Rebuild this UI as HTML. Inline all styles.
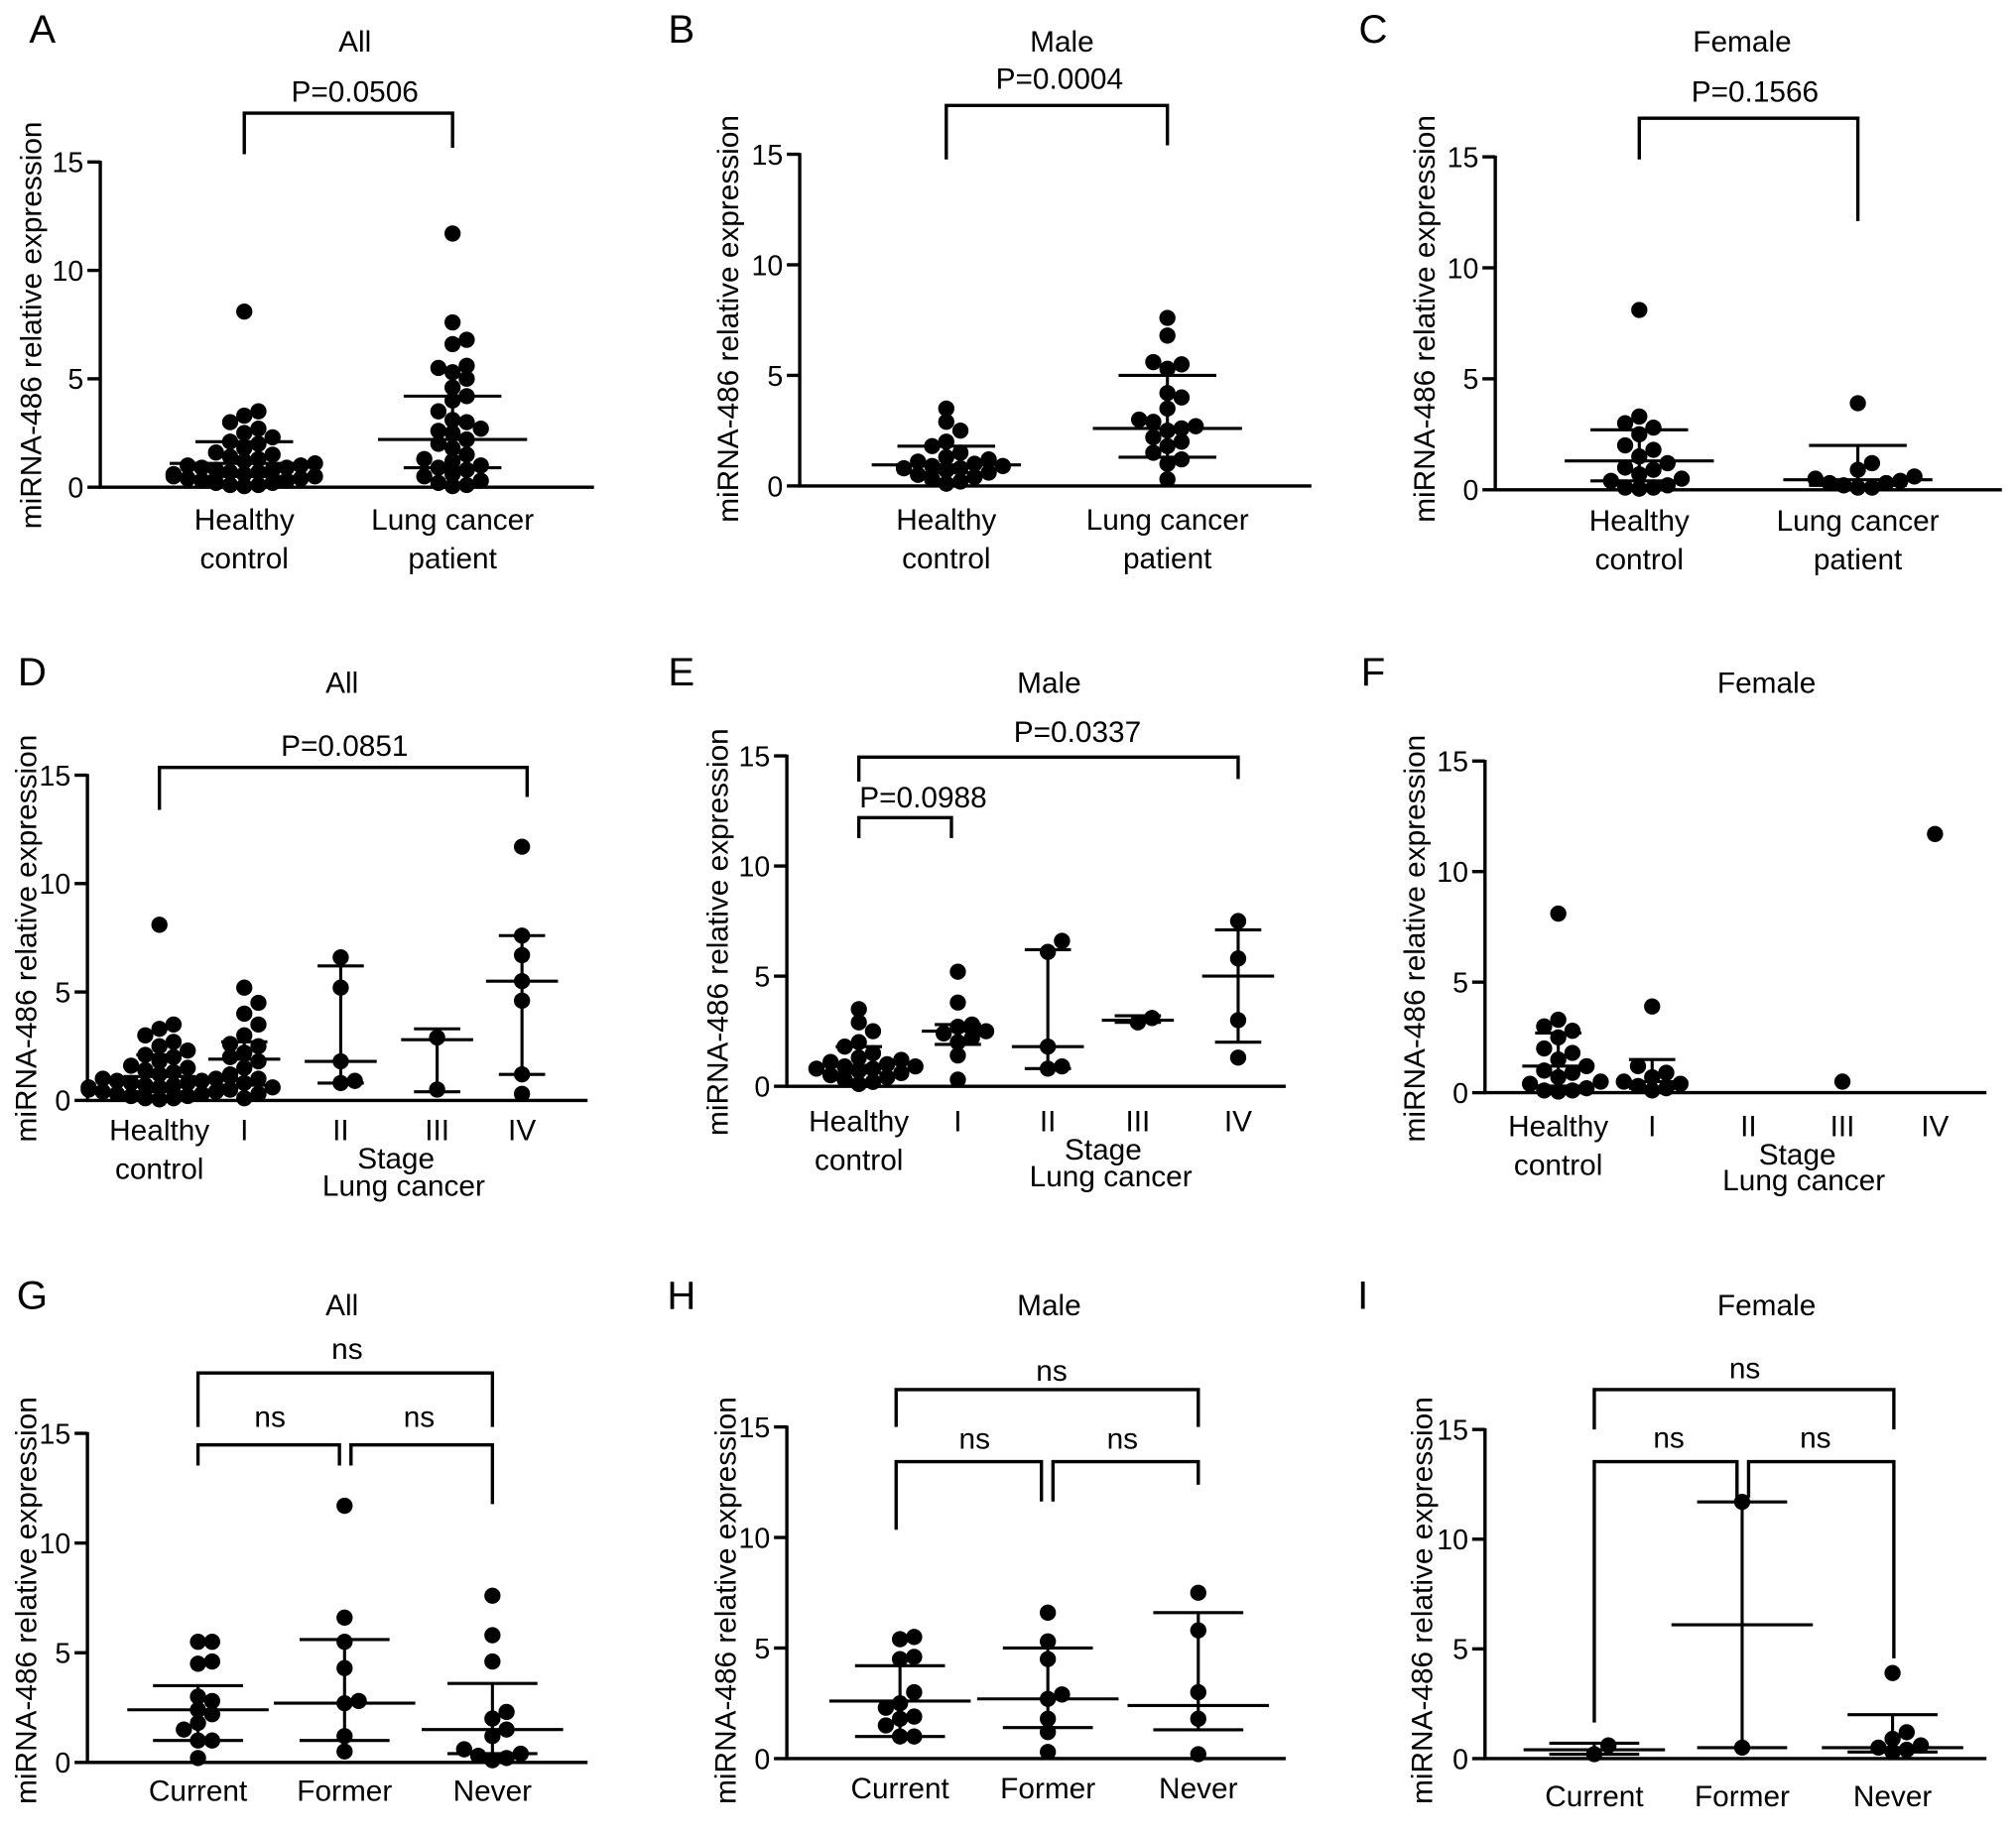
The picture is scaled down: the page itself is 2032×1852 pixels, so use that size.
<!DOCTYPE html>
<html><head><meta charset="utf-8"><style>
html,body{margin:0;padding:0;background:#fff}
svg{display:block}
text{font-family:"Liberation Sans",Arial,sans-serif;fill:#000}
</style></head><body>
<svg id="fig" xmlns="http://www.w3.org/2000/svg" width="2032" height="1852" viewBox="0 0 1568 1429" preserveAspectRatio="none"></svg>
<script>
// ---- data ----
const aCats=["Healthy|control","Lung cancer|patient"];
const aHealthy=[8.1,3.5,3.3,3.0,2.7,2.5,2.3,2.1,2.0,1.8,1.6,1.5,1.4,1.3,1.2,1.1,1.0,1.0,0.9,0.9,0.8,0.8,0.7,0.7,0.6,0.6,0.5,0.5,0.4,0.4,0.3,0.3,0.2,0.2,0.1,0.1,0.05];
const aCancer=[11.7,7.6,6.8,6.6,5.6,5.5,5.3,5.0,4.6,4.2,4.0,3.5,3.1,3.0,2.7,2.6,2.5,2.2,2.0,1.8,1.5,1.3,1.2,1.0,0.9,0.8,0.6,0.5,0.3,0.2,0.1,0.05];
const aMedian=[1.1,2.2], aQ1=[0.5,0.9], aQ3=[2.1,4.2];

const bHealthy=[3.5,2.9,2.5,2.0,1.8,1.5,1.3,1.2,1.1,1.0,0.9,0.9,0.8,0.8,0.7,0.6,0.5,0.4,0.3,0.2,0.1];
const bCancer=[7.6,6.8,5.6,5.5,5.3,4.2,4.0,3.5,3.0,2.9,2.7,2.6,2.5,2.2,2.0,1.8,1.5,1.2,1.0,0.3];
const bMedian=[0.95,2.6], bQ1=[0.6,1.3], bQ3=[1.8,5.0];

const cHealthy=[8.1,3.3,3.0,2.8,2.5,2.0,1.8,1.5,1.2,1.0,0.9,0.7,0.5,0.4,0.2,0.1,0.1,0.05];
const cCancer=[3.9,1.2,0.9,0.6,0.5,0.4,0.3,0.3,0.2,0.1,0.1];
const cMedian=[1.3,0.45], cQ1=[0.4,0.2], cQ3=[2.7,2.0];

const stageCats=["Healthy|control","I","II","III","IV"];
const dI=[5.2,4.5,4.0,3.5,3.0,2.6,2.5,2.2,2.0,1.8,1.5,1.2,1.0,0.8,0.6,0.5,0.3,0.1];
const dII=[6.6,5.2,1.8,0.9,0.8], dIII=[2.9,0.5], dIV=[11.7,7.6,6.7,5.5,4.6,1.2,0.3];
const dMedian=[1.1,1.9,1.8,2.8,5.5], dQ1=[0.4,0.7,0.8,0.4,1.2], dQ3=[2.1,2.7,6.2,3.3,7.6];

const eI=[5.2,3.8,2.8,2.7,2.5,2.4,2.2,2.0,1.4,0.3];
const eII=[6.6,6.1,1.8,0.9,0.8], eIII=[3.1,2.9], eIV=[7.5,5.8,3.0,1.3];
const eMedian=[0.95,2.5,1.8,3.0,5.0], eQ1=[0.6,1.9,0.8,2.9,2.0], eQ3=[1.8,2.8,6.2,3.2,7.1];

const fI=[3.9,1.2,0.9,0.7,0.5,0.4,0.3,0.2,0.1], fII=[], fIII=[0.5], fIV=[11.7];
const fMedian=[1.2,0.5,null,null,null], fQ1=[0.3,0.2,null,null,null], fQ3=[2.7,1.5,null,null,null];

const smokeCats=["Current","Former","Never"];
const gCurrent=[5.5,5.5,4.6,4.5,3.0,2.8,2.4,2.2,1.8,1.5,1.0,1.0,0.2];
const gFormer=[11.7,6.6,5.5,4.3,2.8,2.7,1.2,0.5];
const gNever=[7.6,5.8,4.6,2.3,2.0,1.5,1.2,0.6,0.4,0.3,0.2,0.1];
const gMedian=[2.4,2.7,1.5], gQ1=[1.0,1.0,0.4], gQ3=[3.5,5.6,3.6];

const hCurrent=[5.5,5.4,4.6,4.5,3.0,2.5,2.3,1.9,1.8,1.5,1.0,1.0];
const hFormer=[6.6,5.3,4.5,2.9,2.7,1.8,1.2,0.3];
const hNever=[7.5,5.8,3.0,1.8,0.2];
const hMedian=[2.6,2.7,2.4], hQ1=[1.0,1.4,1.3], hQ3=[4.2,5.0,6.6];

const iCurrent=[0.6,0.2], iFormer=[11.7,0.5], iNever=[3.9,1.2,0.9,0.6,0.5,0.4,0.3];
const iMedian=[0.4,6.1,0.5], iQ1=[0.2,0.5,0.3], iQ3=[0.7,11.7,2.0];

const yTicks=[0,5,10,15];

// ---- drawing ----
const svg=document.getElementById('fig');
const NS='http://www.w3.org/2000/svg';
function el(tag,attrs,parent){const e=document.createElementNS(NS,tag);for(const k in attrs)e.setAttribute(k,attrs[k]);(parent||svg).appendChild(e);return e;}
function txt(s,x,y,size,anchor,parent,rot){const t=el('text',{x:x,y:y,'font-size':size,'text-anchor':anchor||'middle'},parent);if(rot)t.setAttribute('transform','rotate(-90 '+x+' '+y+')');t.textContent=s;return t;}

function panel(p){
  const g=el('g',{});
  
  
  const yS=v=>p.y0-(p.y0-p.y15)*v/15;
  const xS=i=>p.cx[i];
  const l=txt(p.id,p.lx,p.ly,31,'middle',g);
  
  const t=txt(p.title,p.tx,p.ty,23,'middle',g);
  
  const yt=txt('miRNA-486 relative expression',p.yx,p.yy,23,'middle',g,true);
  
  const ya=el('line',{x1:p.ax,y1:p.y15-1,x2:p.ax,y2:p.y0,stroke:'#000','stroke-width':2.6},g);
  
  const xa=el('line',{x1:p.ax-1,y1:p.y0,x2:p.xend,y2:p.y0,stroke:'#000','stroke-width':2.6},g);
  
  yTicks.forEach(v=>{
    const tk=el('line',{x1:p.ax-10,y1:yS(v),x2:p.ax,y2:yS(v),stroke:'#000','stroke-width':2.6},g);
    
    const tl=txt(String(v),p.ax-13,yS(v)+8,22,'end',g);
    
  });
  p.cats.forEach((c,i)=>{
    const parts=c.split('|');
    parts.forEach((s,j)=>{
      const cl=txt(s,xS(i),p.catY+j*30,23,'middle',g);
      
    });
  });
  if(p.extra)p.extra.forEach(e=>{const x=txt(e[0],e[1],e[2],23,'middle',g);});
  p.groups.forEach((vals,i)=>{
    const placed=[];
    const sorted=vals.slice().sort((a,b)=>a-b);
    sorted.forEach(v=>{
      const py=yS(v);
      const near=placed.filter(q=>Math.abs(q.y-py)<9);
      const offs=[0,11,-11,22,-22,33,-33,44,-44,55,-55];
      let off=0;
      for(let k=0;k<offs.length;k++){off=offs[k];if(!near.some(q=>Math.abs(q.x-off)<11))break;}
      placed.push({x:off,y:py});
      const c=el('circle',{cx:xS(i)+off,cy:py,r:6.3,fill:'#000'},g);
      
    });
  });
  p.med.forEach((m,i)=>{
    if(m===null)return;
    const eb=el('g',{},g);
    
    el('line',{x1:xS(i)-p.mw,y1:yS(m),x2:xS(i)+p.mw,y2:yS(m),stroke:'#000','stroke-width':2.4},eb);
    el('line',{x1:xS(i),y1:yS(p.q1[i]),x2:xS(i),y2:yS(p.q3[i]),stroke:'#000','stroke-width':2.4},eb);
    el('line',{x1:xS(i)-p.cw,y1:yS(p.q1[i]),x2:xS(i)+p.cw,y2:yS(p.q1[i]),stroke:'#000','stroke-width':2.4},eb);
    el('line',{x1:xS(i)-p.cw,y1:yS(p.q3[i]),x2:xS(i)+p.cw,y2:yS(p.q3[i]),stroke:'#000','stroke-width':2.4},eb);
  });
  (p.br||[]).forEach(b=>{
    const bg=el('g',{},g);
    
    el('polyline',{points:`${b[0]},${b[3]} ${b[0]},${b[2]} ${b[1]},${b[2]} ${b[1]},${b[4]}`,fill:'none',stroke:'#000','stroke-width':2.6},bg);
    txt(b[5],b[6],b[7],23,'middle',bg);
  });
}

panel({id:'A',title:'All',lx:33,ly:33,tx:276,ty:40,yx:32,yy:253,ax:78,y0:379,y15:126,xend:462,cx:[190,352],cats:aCats,catY:412,
  groups:[aHealthy,aCancer],med:aMedian,q1:aQ1,q3:aQ3,mw:58,cw:38,
  br:[[190,352,88,120,115,'P=0.0506',276,79]]});
panel({id:'B',title:'Male',lx:530,ly:33,tx:826,ty:40,yx:574,yy:248,ax:622,y0:378,y15:120,xend:1020,cx:[736,908],cats:aCats,catY:412,
  groups:[bHealthy,bCancer],med:bMedian,q1:bQ1,q3:bQ3,mw:58,cw:38,
  br:[[736,908,82,124,113,'P=0.0004',824,69]]});
panel({id:'C',title:'Female',lx:1068,ly:33,tx:1355,ty:40,yx:1116,yy:248,ax:1163,y0:381,y15:122,xend:1557,cx:[1275,1445],cats:aCats,catY:413,
  groups:[cHealthy,cCancer],med:cMedian,q1:cQ1,q3:cQ3,mw:58,cw:38,
  br:[[1275,1445,92,124,172,'P=0.1566',1365,79]]});

panel({id:'D',title:'All',lx:25,ly:533,tx:266,ty:539,yx:28,yy:730,ax:68,y0:856,y15:603,xend:457,cx:[124,190,265,340,406],cats:stageCats,catY:887,
  groups:[aHealthy,dI,dII,dIII,dIV],med:dMedian,q1:dQ1,q3:dQ3,mw:28,cw:18,
  extra:[['Stage',308,909],['Lung cancer',314,930]],
  br:[[124,410,597,630,620,'P=0.0851',268,588]]});
panel({id:'E',title:'Male',lx:530,ly:533,tx:816,ty:539,yx:566,yy:725,ax:612,y0:845,y15:588,xend:1000,cx:[668,745,815,885,963],cats:stageCats,catY:880,
  groups:[bHealthy,eI,eII,eIII,eIV],med:eMedian,q1:eQ1,q3:eQ3,mw:28,cw:18,
  extra:[['Stage',858,902],['Lung cancer',864,923]],
  br:[[668,963,589,608,606,'P=0.0337',838,577],[668,740,636,652,652,'P=0.0988',718,628]]});
panel({id:'F',title:'Female',lx:1068,ly:533,tx:1374,ty:539,yx:1108,yy:730,ax:1155,y0:850,y15:592,xend:1545,cx:[1212,1285,1360,1433,1505],cats:stageCats,catY:884,
  groups:[cHealthy,fI,fII,fIII,fIV],med:fMedian,q1:fQ1,q3:fQ3,mw:28,cw:18,
  extra:[['Stage',1398,906],['Lung cancer',1403,926]]});

panel({id:'G',title:'All',lx:25,ly:1018,tx:266,ty:1023,yx:28,yy:1245,ax:68,y0:1371,y15:1115,xend:457,cx:[154,268,383],cats:smokeCats,catY:1401,
  groups:[gCurrent,gFormer,gNever],med:gMedian,q1:gQ1,q3:gQ3,mw:55,cw:35,
  br:[[154,383,1068,1110,1110,'ns',270,1057],[154,264,1124,1140,1140,'ns',210,1110],[273,383,1124,1140,1170,'ns',326,1110]]});
panel({id:'H',title:'Male',lx:530,ly:1018,tx:816,ty:1023,yx:572,yy:1245,ax:612,y0:1368,y15:1110,xend:1000,cx:[700,815,932],cats:smokeCats,catY:1399,
  groups:[hCurrent,hFormer,hNever],med:hMedian,q1:hQ1,q3:hQ3,mw:55,cw:35,
  br:[[697,932,1081,1110,1110,'ns',818,1074],[697,810,1137,1190,1168,'ns',758,1127],[819,932,1137,1168,1155,'ns',873,1127]]});
panel({id:'I',title:'Female',lx:1060,ly:1018,tx:1374,ty:1023,yx:1114,yy:1245,ax:1155,y0:1368,y15:1112,xend:1545,cx:[1240,1355,1472],cats:smokeCats,catY:1405,
  groups:[iCurrent,iFormer,iNever],med:iMedian,q1:iQ1,q3:iQ3,mw:55,cw:35,
  br:[[1240,1473,1081,1112,1112,'ns',1357,1072],[1240,1351,1137,1340,1165,'ns',1298,1126],[1360,1473,1137,1165,1290,'ns',1412,1126]]});
</script>
</body></html>
